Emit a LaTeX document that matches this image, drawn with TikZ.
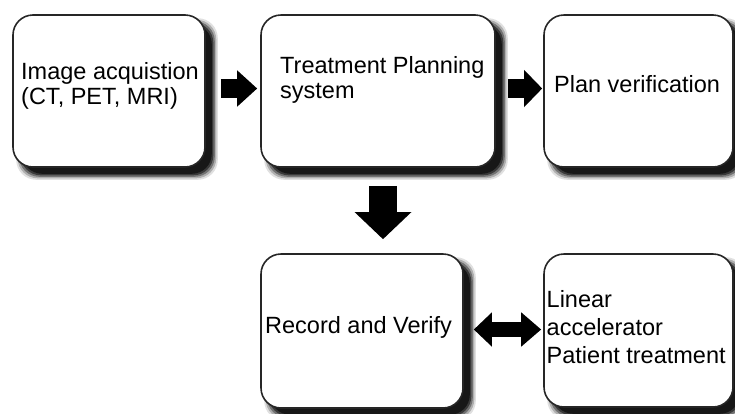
\documentclass[tikz,border=0pt]{standalone}
\usepackage{fontspec}
\setmainfont{Liberation Sans}
\usetikzlibrary{calc,arrows.meta,backgrounds}
\tikzset{
  box/.style={rectangle, draw=black!85, line width=1.6pt, fill=white,
    rounded corners=20pt, inner sep=0pt},
  txt/.style={inner sep=0pt, text=black, font=\fontsize{23.5}{25}\selectfont},
  fatarrow/.style={line width=19pt, -{Triangle[length=20pt,width=35pt]}},
}
\begin{document}
\begin{tikzpicture}[x=1pt,y=-1pt]
\useasboundingbox (0,0) rectangle (735,413);
% boxes
\node[box, minimum width=192pt, minimum height=152pt] (b1) at (109,91) {};
\node[box, minimum width=234pt, minimum height=152pt] (b2) at (378,91) {};
\node[box, minimum width=189pt, minimum height=152pt] (b3) at (638.5,91) {};
\node[box, minimum width=202pt, minimum height=154pt] (b4) at (362,331) {};
\node[box, minimum width=189pt, minimum height=153pt] (b5) at (638.5,330.5) {};
% shadows
\begin{scope}[on background layer]
\foreach \b in {b1,b2,b3,b4,b5}{
  \foreach \i/\o in {4/0.12, 2.5/0.22, 1/0.35, -0.5/0.5, -2/0.6}{
    \fill[black, opacity=\o, rounded corners=20pt]
      ($(\b.north west)+(8-\i,8-\i)$) rectangle ($(\b.south east)+(8+\i,8+\i)$);
  }
}
\end{scope}
% texts
\node[txt, anchor=base west] (t1) at (21,79)
  {\begin{tabular}[t]{@{}l@{}}Image acquistion\\(CT, PET, MRI)\end{tabular}};
\node[txt, anchor=base west] (t2) at (280,73.5)
  {\begin{tabular}[t]{@{}l@{}}Treatment Planning\\system\end{tabular}};
\node[txt, anchor=base west] (t3) at (554,92) {Plan verification};
\node[txt, anchor=base west] (t4) at (265,333) {Record and Verify};
\node[txt, anchor=base west, font=\fontsize{23.5}{28}\selectfont] (t5) at (546.5,307)
  {\begin{tabular}[t]{@{}l@{}}Linear\\accelerator\\Patient treatment\end{tabular}};
% arrows
\draw[fatarrow] ($(b1.east)+(15,-2.5)$) -- ($(b2.west)+(-3,-2.5)$);
\draw[line width=19pt, -{Triangle[length=18pt,width=36pt]}]
  ($(b2.east)+(12,-2.5)$) -- ($(b3.west)+(-1,-2.5)$);
\draw[line width=28pt, -{Triangle[length=27pt,width=55pt]}]
  ($(b2.south)+(5,18)$) -- ($(b4.north)+(21,-14)$);
\draw[line width=15pt, {Triangle[length=18pt,width=33pt]}-{Triangle[length=20pt,width=33pt]}]
  ($(b4.east)+(10,-1.5)$) -- ($(b5.west)+(-2,-1)$);
\end{tikzpicture}
\end{document}
